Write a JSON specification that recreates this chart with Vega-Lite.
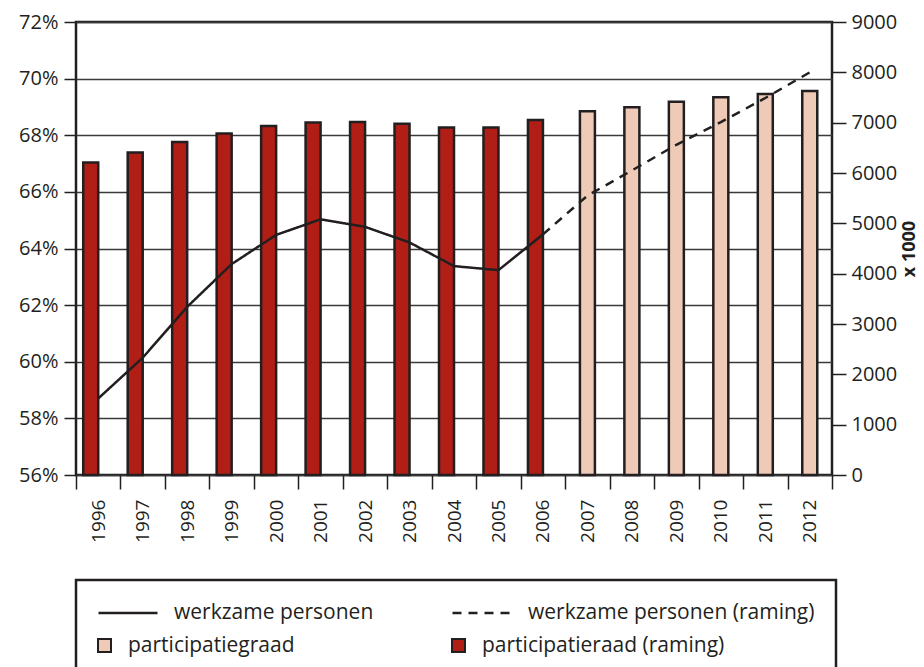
{
  "$schema": "https://vega.github.io/schema/vega-lite/v6.json",
  "width": 756,
  "height": 453,
  "autosize": {"type": "none"},
  "padding": {"left": 76, "top": 22, "right": 92, "bottom": 192},
  "background": "white",
  "config": {
    "view": {"stroke": "#231F20", "strokeWidth": 2.5},
    "font": "Open Sans",
    "axis": {"labelFont": "Open Sans", "labelColor": "#231F20", "tickColor": "#231F20", "domainColor": "#231F20", "titleColor": "#231F20", "titleFont": "Open Sans"},
    "legend": {"strokeWidth": 2.5, "labelFont": "Open Sans", "labelFontSize": 21, "labelColor": "#231F20", "labelLimit": 400}
  },
  "datasets": {
    "bars": [
      {"year": 1996, "pct": 0.6704, "series": "participatieraad (raming)"},
      {"year": 1997, "pct": 0.6739, "series": "participatieraad (raming)"},
      {"year": 1998, "pct": 0.6776, "series": "participatieraad (raming)"},
      {"year": 1999, "pct": 0.6806, "series": "participatieraad (raming)"},
      {"year": 2000, "pct": 0.6833, "series": "participatieraad (raming)"},
      {"year": 2001, "pct": 0.6845, "series": "participatieraad (raming)"},
      {"year": 2002, "pct": 0.6847, "series": "participatieraad (raming)"},
      {"year": 2003, "pct": 0.6841, "series": "participatieraad (raming)"},
      {"year": 2004, "pct": 0.6827, "series": "participatieraad (raming)"},
      {"year": 2005, "pct": 0.6827, "series": "participatieraad (raming)"},
      {"year": 2006, "pct": 0.6854, "series": "participatieraad (raming)"},
      {"year": 2007, "pct": 0.6885, "series": "participatiegraad"},
      {"year": 2008, "pct": 0.6899, "series": "participatiegraad"},
      {"year": 2009, "pct": 0.6918, "series": "participatiegraad"},
      {"year": 2010, "pct": 0.6934, "series": "participatiegraad"},
      {"year": 2011, "pct": 0.6946, "series": "participatiegraad"},
      {"year": 2012, "pct": 0.6956, "series": "participatiegraad"}
    ],
    "line": [
      {"year": 1996, "v": 1520, "series": "werkzame personen"},
      {"year": 1997, "v": 2330, "series": "werkzame personen"},
      {"year": 1998, "v": 3340, "series": "werkzame personen"},
      {"year": 1999, "v": 4190, "series": "werkzame personen"},
      {"year": 2000, "v": 4770, "series": "werkzame personen"},
      {"year": 2001, "v": 5080, "series": "werkzame personen"},
      {"year": 2002, "v": 4930, "series": "werkzame personen"},
      {"year": 2003, "v": 4620, "series": "werkzame personen"},
      {"year": 2004, "v": 4150, "series": "werkzame personen"},
      {"year": 2005, "v": 4070, "series": "werkzame personen"},
      {"year": 2006, "v": 4780, "series": "werkzame personen"},
      {"year": 2006, "v": 4780, "series": "werkzame personen (raming)"},
      {"year": 2007, "v": 5550, "series": "werkzame personen (raming)"},
      {"year": 2008, "v": 6050, "series": "werkzame personen (raming)"},
      {"year": 2009, "v": 6560, "series": "werkzame personen (raming)"},
      {"year": 2010, "v": 7010, "series": "werkzame personen (raming)"},
      {"year": 2011, "v": 7490, "series": "werkzame personen (raming)"},
      {"year": 2012, "v": 8000, "series": "werkzame personen (raming)"}
    ]
  },
  "encoding": {
    "x": {
      "field": "year",
      "type": "ordinal",
      "scale": {"paddingInner": 0, "paddingOuter": 0},
      "axis": {"title": null, "labelAngle": -90, "labelFontSize": 19, "tickBand": "extent", "tickSize": 14, "tickWidth": 1.5, "labelPadding": 10, "domain": false, "grid": false}
    }
  },
  "layer": [
    {
      "data": {"name": "bars"},
      "encoding": {
        "y": {
          "field": "pct",
          "type": "quantitative",
          "scale": {"domain": [0.56, 0.72], "zero": false, "nice": false},
          "axis": {"title": null, "values": [0.56, 0.58, 0.6, 0.62, 0.64, 0.66, 0.68, 0.7, 0.72], "format": ".0%", "grid": true, "gridColor": "#3a3a3a", "gridWidth": 1.3, "domain": false, "tickSize": 12, "tickWidth": 1.5, "labelFontSize": 20, "labelPadding": 6}
        },
        "y2": {"datum": 0.56},
        "color": {
          "field": "series",
          "type": "nominal",
          "scale": {"domain": ["participatiegraad", "participatieraad (raming)"], "range": ["#EECAB7", "#B01E16"]},
          "legend": {
            "title": null,
            "orient": "none",
            "legendX": 18,
            "legendY": 613,
            "direction": "horizontal",
            "padding": 0,
            "symbolType": "square",
            "symbolSize": 169,
            "symbolStrokeColor": "#231F20",
            "symbolStrokeWidth": 2,
            "symbolOpacity": 1,
            "labelOffset": 13,
            "columnPadding": 153
          }
        }
      },
      "layer": [
        {
          "transform": [{"filter": "datum.series == 'participatieraad (raming)'"}],
          "mark": {"type": "bar", "size": 15, "xOffset": -7.5, "stroke": "#231F20", "strokeWidth": 2.5}
        },
        {
          "transform": [{"filter": "datum.series == 'participatiegraad'"}],
          "mark": {"type": "bar", "size": 15, "stroke": "#231F20", "strokeWidth": 2.5}
        }
      ]
    },
    {
      "data": {"name": "line"},
      "mark": {"type": "line", "strokeWidth": 2.5, "color": "#231F20"},
      "encoding": {
        "y": {
          "field": "v",
          "type": "quantitative",
          "scale": {"domain": [0, 9000], "nice": false},
          "axis": {"orient": "right", "values": [0, 1000, 2000, 3000, 4000, 5000, 6000, 7000, 8000, 9000], "format": "d", "grid": false, "domain": false, "tickSize": 14, "tickWidth": 1.5, "labelPadding": 5, "labelFontSize": 20, "title": "x 1000", "titleFontWeight": "bold", "titleFontSize": 18, "titleAngle": 270, "titleBaseline": "top", "titlePadding": 4}
        },
        "strokeDash": {
          "field": "series",
          "type": "nominal",
          "scale": {"domain": ["werkzame personen", "werkzame personen (raming)"], "range": [[1, 0], [9, 7]]},
          "legend": {
            "title": " ",
            "titleOrient": "bottom",
            "titleFontSize": 21,
            "titlePadding": 12,
            "orient": "none",
            "legendX": 0,
            "legendY": 558,
            "direction": "horizontal",
            "padding": 21,
            "clipHeight": 24,
            "strokeColor": "#231F20",
            "symbolType": "stroke",
            "symbolSize": 3481,
            "symbolStrokeColor": "#231F20",
            "symbolStrokeWidth": 2.5,
            "labelOffset": 15,
            "columnPadding": 77
          }
        }
      }
    }
  ],
  "resolve": {"scale": {"y": "independent"}}
}
